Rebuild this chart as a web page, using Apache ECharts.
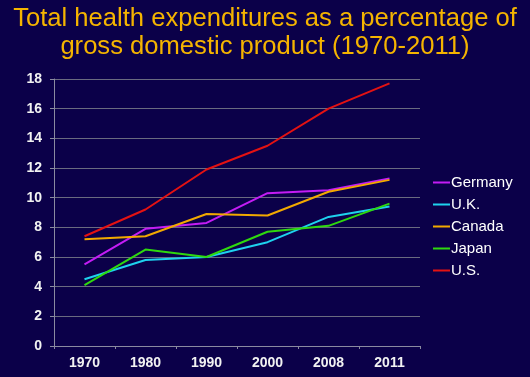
<!DOCTYPE html>
<html>
<head>
<meta charset="utf-8">
<script src="https://cdn.jsdelivr.net/npm/echarts@6/dist/echarts.min.js"></script>
<style>
	html, body { margin: 0; padding: 0; background: #0b0049; }
	#chart { width: 530px; height: 377px; }
</style>
</head>
<body>
<div id="chart"></div>
<script>
	var years = ['1970', '1980', '1990', '2000', '2008', '2011'];
	var germany = [5.5, 7.9, 8.3, 10.3, 10.5, 11.3];
	var uk = [4.5, 5.8, 6.0, 7.0, 8.7, 9.4];
	var canada = [7.2, 7.4, 8.9, 8.8, 10.4, 11.2];
	var japan = [4.1, 6.5, 6.0, 7.7, 8.1, 9.6];
	var us = [7.4, 9.2, 11.9, 13.5, 16.0, 17.7];

	var names = ['Germany', 'U.K.', 'Canada', 'Japan', 'U.S.'];
	var values = [germany, uk, canada, japan, us];
	var colors = ['#c41cf5', '#1ed2ee', '#f2a900', '#2fd90e', '#e41212'];

	var series = names.map(function (n, i) {
		return {
			name: n,
			type: 'line',
			data: values[i],
			symbol: 'none',
			lineStyle: { width: 2, color: colors[i] },
			itemStyle: { color: colors[i] }
		};
	});

	var myChart = echarts.init(document.getElementById('chart'));
	myChart.setOption({
		backgroundColor: '#0b0049',
		animation: false,
		title: {
			text: 'Total health expenditures as a percentage of\ngross domestic product (1970-2011)',
			left: 'center',
			top: 0,
			textStyle: {
				color: '#f5b400',
				fontFamily: 'Liberation Sans',
				fontWeight: 'normal',
				fontSize: 25.6,
				lineHeight: 28
			}
		},
		grid: { left: 54, right: 110, top: 79, bottom: 31 },
		legend: {
			orient: 'vertical',
			left: 428,
			top: 170,
			itemGap: 7,
			itemWidth: 17,
			itemHeight: 2,
			icon: 'rect',
			textStyle: { color: '#fff', fontFamily: 'Liberation Sans', fontSize: 15, padding: [0, 0, 0, -4] },
			data: names
		},
		xAxis: {
			type: 'category',
			data: years,
			axisLine: { lineStyle: { color: '#8a8aa0' } },
			axisTick: { show: true, length: 3, lineStyle: { color: '#8a8aa0' } },
			axisLabel: { color: '#f2f2f2', fontFamily: 'Liberation Sans', fontWeight: 'bold', fontSize: 14, margin: 10 }
		},
		yAxis: {
			type: 'value',
			min: 0,
			max: 18,
			interval: 2,
			axisLine: { show: true, lineStyle: { color: '#8a8aa0' } },
			axisTick: { show: true, length: 4, lineStyle: { color: '#8a8aa0' } },
			axisLabel: { color: '#f2f2f2', fontFamily: 'Liberation Sans', fontWeight: 'bold', fontSize: 14, margin: 12 },
			splitLine: { lineStyle: { color: '#6a6a80', width: 1 } }
		},
		series: series
	});
</script>
</body>
</html>
